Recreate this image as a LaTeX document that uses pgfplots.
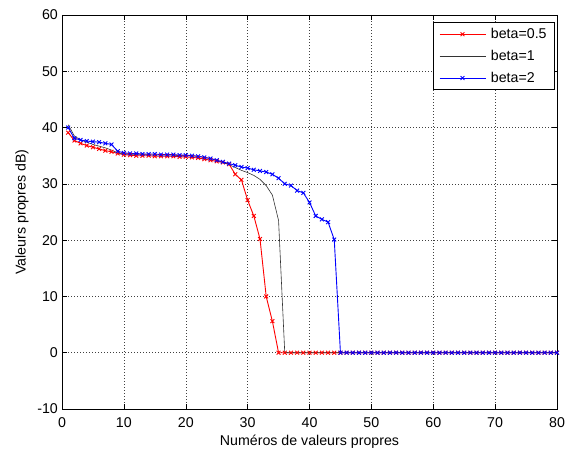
\documentclass[border=0pt]{standalone}
\usepackage{fontspec}
\setmainfont{Liberation Sans}
\usepackage{pgfplots}
\usepackage{pgfplotstable}
\pgfplotsset{compat=1.18}
\usetikzlibrary{calc}

\pgfplotstableread{
x y
1 39.1
2 37.7
3 37.2
4 36.8
5 36.5
6 36.2
7 35.9
8 35.7
9 35.4
10 35.2
11 35.1
12 35.0
13 35.0
14 35.0
15 34.9
16 34.9
17 34.9
18 34.9
19 34.8
20 34.8
21 34.7
22 34.6
23 34.4
24 34.2
25 34.0
26 33.8
27 33.5
28 31.7
29 30.7
30 27.1
31 24.3
32 20.2
33 10.0
34 5.6
35 0
36 0
37 0
38 0
39 0
40 0
41 0
42 0
43 0
44 0
45 0
46 0
47 0
48 0
49 0
50 0
51 0
52 0
53 0
54 0
55 0
56 0
57 0
58 0
59 0
60 0
61 0
62 0
63 0
64 0
65 0
66 0
67 0
68 0
69 0
70 0
71 0
72 0
73 0
74 0
75 0
76 0
77 0
78 0
79 0
80 0
}\betahalf

\pgfplotstableread{
x y
1 40.5
2 38.5
3 37.8
4 37.4
5 37.0
6 36.7
7 36.4
8 36.0
9 35.5
10 35.3
11 35.3
12 35.2
13 35.2
14 35.2
15 35.1
16 35.1
17 35.1
18 35.1
19 35.0
20 35.0
21 35.0
22 34.9
23 34.7
24 34.5
25 34.2
26 33.8
27 33.4
28 32.9
29 32.4
30 32.0
31 31.5
32 30.8
33 29.7
34 28.0
35 23.5
36 0
37 0
38 0
39 0
40 0
41 0
42 0
43 0
44 0
45 0
46 0
47 0
48 0
49 0
50 0
51 0
52 0
53 0
54 0
55 0
56 0
57 0
58 0
59 0
60 0
61 0
62 0
63 0
64 0
65 0
66 0
67 0
68 0
69 0
70 0
71 0
72 0
73 0
74 0
75 0
76 0
77 0
78 0
79 0
80 0
}\betaone

\pgfplotstableread{
x y
1 40.0
2 38.1
3 37.8
4 37.6
5 37.5
6 37.4
7 37.2
8 37.0
9 35.8
10 35.5
11 35.4
12 35.4
13 35.3
14 35.3
15 35.3
16 35.2
17 35.2
18 35.2
19 35.1
20 35.1
21 35.0
22 34.9
23 34.7
24 34.5
25 34.2
26 33.9
27 33.6
28 33.3
29 33.0
30 32.8
31 32.5
32 32.3
33 32.1
34 31.7
35 31.0
36 30.0
37 29.7
38 28.8
39 28.4
40 26.7
41 24.3
42 23.7
43 23.2
44 20.1
45 0
46 0
47 0
48 0
49 0
50 0
51 0
52 0
53 0
54 0
55 0
56 0
57 0
58 0
59 0
60 0
61 0
62 0
63 0
64 0
65 0
66 0
67 0
68 0
69 0
70 0
71 0
72 0
73 0
74 0
75 0
76 0
77 0
78 0
79 0
80 0
}\betatwo

\newcommand{\chartfont}{\fontsize{14.2bp}{17bp}\selectfont}
\begin{document}
\chartfont
\begin{tikzpicture}
\begin{axis}[
  name=ax,
  scale only axis,
  width=495bp, height=394bp,
  xmin=0, xmax=80, ymin=-10, ymax=60,
  xtick={0,10,...,80},
  ytick={-10,0,10,20,30,40,50,60},
  yticklabels={-10,0,10,20,30,40,50,60},
  /pgf/number format/assume math mode=true,
  tick align=inside,
  major tick length=5bp,
  tick style={black, line width=0.5bp},
  axis line style={black, line width=0.6bp},
  grid=major,
  major grid style={black!75, line width=0.5bp, dash pattern=on 1bp off 2bp},
  xticklabel style={anchor=base, yshift=-19bp, inner sep=0pt, font=\chartfont},
  yticklabel style={anchor=east, xshift=-4bp, inner sep=0pt, font=\chartfont},
  xlabel={Numéros de valeurs propres},
  ylabel={Valeurs propres dB)},
  xlabel style={at={(axis description cs:0.5,0)}, anchor=base, yshift=-37bp, inner sep=0pt, font=\chartfont},
  ylabel style={at={(axis description cs:-0.0808,0.5)}, anchor=center, inner sep=0pt, font=\chartfont},
  legend cell align=left,
  legend style={at={(rel axis cs:0.996,0.982)}, anchor=north east,
    draw=black, line width=0.8bp, fill=white,
    inner xsep=6bp, inner ysep=3.5bp, row sep=5.5bp,
    nodes={inner sep=2bp},
    font=\chartfont},
  legend image code/.code={\draw[mark repeat=2,mark phase=2,#1] plot coordinates {(0bp,0bp) (23bp,0bp) (46bp,0bp)}; \path (49bp,0bp);},
]
\addplot[red, line width=0.9bp, mark=x, mark size=2.7bp, mark options={line width=0.9bp}] table[x=x,y=y] {\betahalf};
\addlegendentry{beta=0.5}
\addplot[black!80, line width=0.6bp, mark=none] table[x=x,y=y] {\betaone};
\addlegendentry{beta=1}
\addplot[blue, line width=0.9bp, mark=x, mark size=2.7bp, mark options={line width=0.9bp}] table[x=x,y=y] {\betatwo};
\addlegendentry{beta=2}
\end{axis}
\pgfresetboundingbox
\path[use as bounding box] ($(ax.south west)+(-62bp,-44bp)$) rectangle ($(ax.north east)+(10bp,15bp)$);
\end{tikzpicture}
\end{document}
